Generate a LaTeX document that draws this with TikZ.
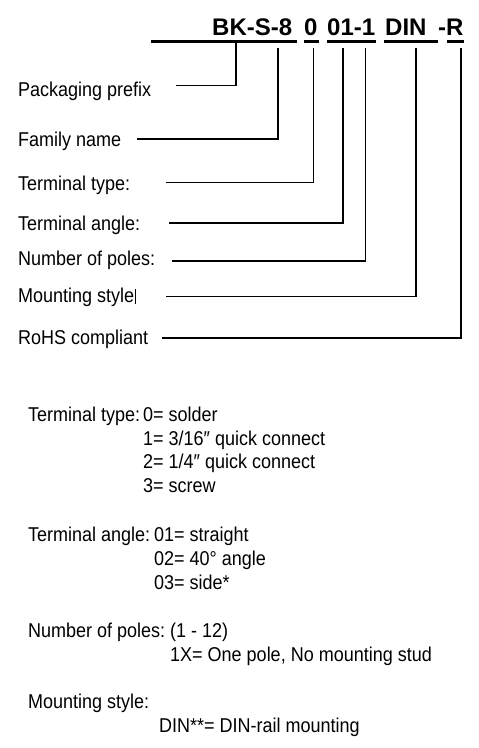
\documentclass[tikz,border=0pt]{standalone}
\usepackage{fontspec}
\setmainfont{Liberation Sans}
\newfontfamily\condfont{Liberation Sans}[FakeStretch=0.9]
\usepackage{tikz}

\tikzset{
    lbl/.style={anchor=base west, inner sep=0pt, font=\condfont\fontsize{20}{24}\selectfont},
    code/.style={anchor=base west, inner sep=0pt, font=\fontsize{24}{28}\selectfont\bfseries},
    lead/.style={black, line width=1.3pt},
    bar/.style={black, line width=3.4pt}
}

\begin{document}
\begin{tikzpicture}[x=1pt, y=-1pt]
    \useasboundingbox[fill=white] (0,0) rectangle (479,748);
    % The part number and its underlines.
        \node[code] (bk) at (212,35) {BK-S-8};
        \node[code] (tt) at (304,35) {0};
        \node[code] (ta) at (327,35) {01-1};
        \node[code] (din) at (385,35) {DIN};
        \node[code] (r) at (438,35) {-R};
        \draw[bar] (151,41.5) -- (297,41.5);
        \draw[bar] (304,41.5) -- (319,41.5);
        \draw[bar] (327,41.5) -- (376,41.5);
        \draw[bar] (384,41.5) -- (438,41.5);
        \draw[bar] (447,41.5) -- (464,41.5);
    % Below nodes are the labels.
        \node[lbl] (pp) at (18,96.7) {Packaging prefix};
        \node[lbl] (fn) at (18,146) {Family name};
        \node[lbl] (tty) at (18,190.7) {Terminal type:};
        \node[lbl] (tan) at (18,230) {Terminal angle:};
        \node[lbl] (np) at (18,265) {Number of poles:};
        \node[lbl] (ms) at (18,302) {Mounting style};
        \node[lbl] (rohs) at (18,344) {RoHS compliant};
        \draw[line width=0.6pt] ([xshift=1pt]ms.base east) ++(0,2) -- ++(0,-15);
    % Leader lines from the labels up to the part number.
        \coordinate (s1) at (176,85.7);   \coordinate (d1) at (236,43);
        \coordinate (s2) at (137,139);    \coordinate (d2) at (278,48);
        \coordinate (s3) at (166,182.7);  \coordinate (d3) at (313.5,48);
        \coordinate (s4) at (169,223);    \coordinate (d4) at (343,48);
        \coordinate (s5) at (172,261);    \coordinate (d5) at (365.5,48);
        \coordinate (s6) at (166,296.7);  \coordinate (d6) at (416,48);
        \coordinate (s7) at (162,338);    \coordinate (d7) at (461,48);
        \draw[lead] (s1) -| (d1);
        \draw[lead] (s2) -| (d2);
        \draw[lead] (s3) -| (d3);
        \draw[lead] (s4) -| (d4);
        \draw[lead] (s5) -| (d5);
        \draw[lead] (s6) -| (d6);
        \draw[lead] (s7) -| (d7);
    % The key below.
        \node[lbl] (k1) at (28,421) {Terminal type:};
        \node[lbl] (v1) at (143,421) {0= solder};
        \node[lbl] (v2) at (143,445) {1= 3/16″ quick connect};
        \node[lbl] (v3) at (143,468) {2= 1/4″ quick connect};
        \node[lbl] (v4) at (143,492) {3= screw};
        \node[lbl] (k2) at (28,541.7) {Terminal angle:};
        \node[lbl] (v5) at (154,541.7) {01= straight};
        \node[lbl] (v6) at (154,565.5) {02= 40° angle};
        \node[lbl] (v7) at (154,589.5) {03= side*};
        \node[lbl] (k3) at (28,637.7) {Number of poles:};
        \node[lbl] (v8) at (170,637.7) {(1 - 12)};
        \node[lbl] (v9) at (170,661.7) {1X= One pole, No mounting stud};
        \node[lbl] (k4) at (28,708) {Mounting style:};
        \node[lbl] (v10) at (159,732.7) {DIN**= DIN-rail mounting};
\end{tikzpicture}
\end{document}
